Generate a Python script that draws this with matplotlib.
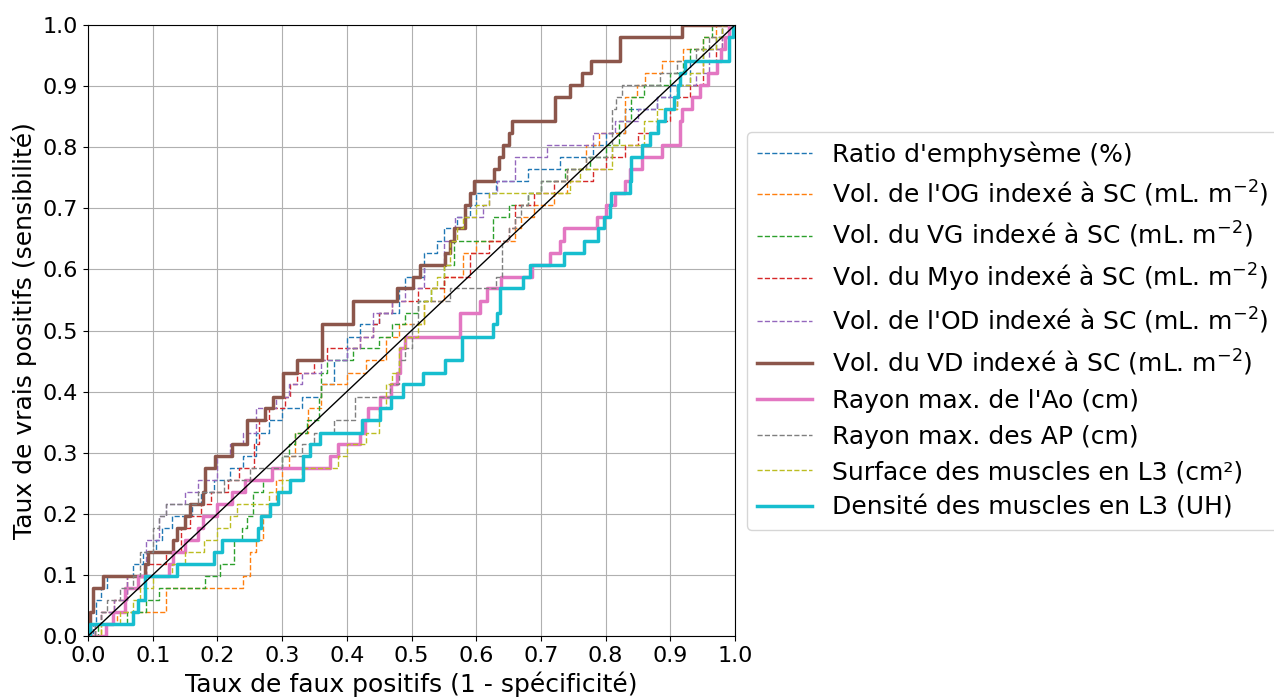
import matplotlib
matplotlib.use("Agg")
import matplotlib.pyplot as plt

# ROC curves: fpr where each step starts, tpr level after the step
labels = [
    "Ratio d'emphysème (%)",
    "Vol. de l'OG indexé à SC (mL. m$^{-2}$)",
    "Vol. du VG indexé à SC (mL. m$^{-2}$)",
    "Vol. du Myo indexé à SC (mL. m$^{-2}$)",
    "Vol. de l'OD indexé à SC (mL. m$^{-2}$)",
    "Vol. du VD indexé à SC (mL. m$^{-2}$)",
    "Rayon max. de l'Ao (cm)",
    "Rayon max. des AP (cm)",
    "Surface des muscles en L3 (cm²)",
    "Densité des muscles en L3 (UH)",
]

fpr_emph = [0, 0.008, 0.012, 0.02, 0.03, 0.07, 0.085, 0.105, 0.115, 0.13, 0.16, 0.175, 0.195, 0.22, 0.24, 0.26,
            0.28, 0.30, 0.33, 0.36, 0.38, 0.40, 0.42, 0.45, 0.48, 0.49, 0.52, 0.54, 0.55, 0.57, 0.59, 0.60,
            0.63, 0.68, 0.73, 0.78, 0.80, 0.83, 0.88, 0.90, 0.93, 0.95, 0.97, 0.98, 1.0]
tpr_emph = [0, 0.02, 0.059, 0.078, 0.098, 0.118, 0.137, 0.157, 0.176, 0.196, 0.216, 0.235, 0.255, 0.275, 0.294, 0.333,
            0.353, 0.373, 0.392, 0.412, 0.451, 0.49, 0.51, 0.529, 0.569, 0.588, 0.627, 0.647, 0.667, 0.686, 0.706, 0.725,
            0.745, 0.765, 0.784, 0.804, 0.824, 0.863, 0.882, 0.902, 0.941, 0.961, 0.98, 1.0, 1.0]

fpr_og = [0, 0.02, 0.045, 0.12, 0.24, 0.25, 0.26, 0.27, 0.28, 0.29, 0.30, 0.31, 0.32, 0.34, 0.36, 0.40,
          0.43, 0.46, 0.48, 0.52, 0.55, 0.58, 0.60, 0.66, 0.67, 0.69, 0.72, 0.74, 0.77, 0.79, 0.83, 0.848,
          0.861, 0.887, 0.92, 0.95, 0.97, 1.0]
tpr_og = [0, 0.02, 0.039, 0.078, 0.098, 0.137, 0.157, 0.196, 0.216, 0.255, 0.275, 0.294, 0.333, 0.373, 0.412, 0.431,
          0.451, 0.49, 0.51, 0.549, 0.588, 0.627, 0.647, 0.667, 0.686, 0.706, 0.725, 0.765, 0.804, 0.824, 0.882, 0.902,
          0.922, 0.941, 0.961, 0.98, 1.0, 1.0]

fpr_vg = [0, 0.015, 0.06, 0.09, 0.109, 0.181, 0.204, 0.225, 0.238, 0.245, 0.255, 0.27, 0.285, 0.30, 0.31, 0.32,
          0.339, 0.357, 0.36, 0.37, 0.41, 0.45, 0.47, 0.49, 0.51, 0.53, 0.55, 0.565, 0.626, 0.65, 0.68, 0.70,
          0.737, 0.776, 0.80, 0.82, 0.84, 0.86, 0.90, 0.92, 0.93, 0.95, 0.965, 1.0]
tpr_vg = [0, 0.02, 0.039, 0.059, 0.078, 0.098, 0.118, 0.157, 0.176, 0.196, 0.235, 0.255, 0.275, 0.294, 0.314, 0.333,
          0.353, 0.392, 0.431, 0.451, 0.471, 0.49, 0.51, 0.529, 0.549, 0.569, 0.608, 0.647, 0.686, 0.706, 0.725, 0.745,
          0.765, 0.784, 0.804, 0.843, 0.882, 0.902, 0.922, 0.941, 0.961, 0.98, 1.0, 1.0]

fpr_myo = [0, 0.01, 0.02, 0.04, 0.06, 0.09, 0.12, 0.143, 0.157, 0.175, 0.19, 0.216, 0.233, 0.256, 0.265, 0.279,
           0.304, 0.312, 0.323, 0.35, 0.37, 0.42, 0.44, 0.45, 0.47, 0.51, 0.55, 0.59, 0.62, 0.65, 0.66, 0.69,
           0.72, 0.78, 0.80, 0.83, 0.85, 0.88, 0.90, 0.91, 0.93, 0.95, 0.97, 0.98, 0.99, 1.0]
tpr_myo = [0, 0.02, 0.039, 0.059, 0.098, 0.118, 0.137, 0.176, 0.196, 0.216, 0.235, 0.255, 0.275, 0.314, 0.353, 0.373,
           0.392, 0.412, 0.431, 0.451, 0.471, 0.49, 0.51, 0.529, 0.549, 0.569, 0.588, 0.627, 0.647, 0.667, 0.706, 0.725,
           0.745, 0.765, 0.784, 0.804, 0.824, 0.843, 0.863, 0.882, 0.902, 0.941, 0.961, 0.98, 1.0, 1.0]

fpr_od = [0, 0.01, 0.02, 0.04, 0.06, 0.09, 0.11, 0.12, 0.15, 0.17, 0.20, 0.22, 0.24, 0.26, 0.29, 0.31,
          0.33, 0.36, 0.40, 0.42, 0.44, 0.47, 0.49, 0.52, 0.55, 0.567, 0.61, 0.62, 0.632, 0.66, 0.71, 0.78,
          0.815, 0.85, 0.88, 0.91, 0.94, 0.96, 0.98, 1.0]
tpr_od = [0, 0.02, 0.039, 0.059, 0.098, 0.157, 0.196, 0.216, 0.235, 0.255, 0.294, 0.314, 0.333, 0.373, 0.392, 0.412,
          0.431, 0.451, 0.471, 0.49, 0.529, 0.549, 0.569, 0.608, 0.647, 0.686, 0.706, 0.725, 0.745, 0.784, 0.804, 0.824,
          0.843, 0.863, 0.882, 0.902, 0.922, 0.961, 1.0, 1.0]

fpr_vd = [0, 0.003, 0.008, 0.023, 0.088, 0.093, 0.132, 0.137, 0.150, 0.158, 0.178, 0.181, 0.196, 0.222, 0.245, 0.274,
          0.286, 0.302, 0.323, 0.361, 0.41, 0.477, 0.502, 0.513, 0.552, 0.559, 0.565, 0.583, 0.59, 0.596, 0.628, 0.635,
          0.641, 0.651, 0.655, 0.722, 0.745, 0.763, 0.778, 0.822, 0.918, 1.0]
tpr_vd = [0, 0.039, 0.078, 0.098, 0.118, 0.137, 0.157, 0.176, 0.196, 0.216, 0.235, 0.275, 0.294, 0.314, 0.353, 0.373,
          0.392, 0.431, 0.451, 0.51, 0.549, 0.569, 0.588, 0.608, 0.627, 0.647, 0.667, 0.706, 0.725, 0.745, 0.765, 0.784,
          0.804, 0.824, 0.843, 0.882, 0.902, 0.922, 0.941, 0.98, 1.0, 1.0]

fpr_ao = [0, 0.027, 0.039, 0.057, 0.078, 0.125, 0.132, 0.150, 0.170, 0.178, 0.199, 0.222, 0.243, 0.250, 0.284, 0.374,
          0.387, 0.420, 0.428, 0.433, 0.451, 0.469, 0.477, 0.482, 0.49, 0.575, 0.606, 0.616, 0.639, 0.686, 0.714, 0.729,
          0.735, 0.786, 0.80, 0.815, 0.830, 0.838, 0.856, 0.887, 0.915, 0.918, 0.933, 0.946, 0.959, 0.972, 0.979, 0.985,
          0.990, 1.0]
tpr_ao = [0, 0.02, 0.039, 0.078, 0.098, 0.118, 0.137, 0.157, 0.176, 0.196, 0.216, 0.235, 0.255, 0.255, 0.275, 0.294,
          0.314, 0.333, 0.353, 0.373, 0.392, 0.412, 0.431, 0.471, 0.49, 0.529, 0.549, 0.569, 0.588, 0.608, 0.627, 0.647,
          0.667, 0.686, 0.706, 0.725, 0.745, 0.765, 0.784, 0.804, 0.843, 0.863, 0.882, 0.902, 0.922, 0.941, 0.961, 0.98,
          1.0, 1.0]

fpr_ap = [0, 0.01, 0.02, 0.03, 0.05, 0.07, 0.08, 0.10, 0.11, 0.12, 0.17, 0.21, 0.25, 0.30, 0.33, 0.35,
          0.38, 0.413, 0.467, 0.48, 0.49, 0.50, 0.51, 0.56, 0.63, 0.64, 0.65, 0.66, 0.67, 0.68, 0.70, 0.74,
          0.77, 0.81, 0.816, 0.825, 0.884, 0.91, 0.94, 0.96, 0.98, 1.0]
tpr_ap = [0, 0.02, 0.039, 0.059, 0.078, 0.098, 0.137, 0.176, 0.196, 0.216, 0.235, 0.255, 0.275, 0.294, 0.314, 0.333,
          0.353, 0.392, 0.412, 0.451, 0.471, 0.51, 0.549, 0.569, 0.588, 0.647, 0.667, 0.686, 0.706, 0.725, 0.745, 0.765,
          0.784, 0.863, 0.882, 0.902, 0.922, 0.941, 0.961, 0.98, 1.0, 1.0]

fpr_surf = [0, 0.02, 0.05, 0.07, 0.08, 0.10, 0.13, 0.15, 0.18, 0.20, 0.22, 0.23, 0.28, 0.30, 0.33, 0.387,
            0.40, 0.43, 0.45, 0.46, 0.47, 0.48, 0.49, 0.51, 0.52, 0.53, 0.54, 0.55, 0.56, 0.57, 0.58, 0.60,
            0.62, 0.745, 0.76, 0.81, 0.86, 0.88, 0.91, 0.93, 0.95, 0.97, 0.98, 1.0]
tpr_surf = [0, 0.02, 0.039, 0.059, 0.078, 0.098, 0.118, 0.137, 0.157, 0.176, 0.196, 0.216, 0.235, 0.255, 0.275, 0.294,
            0.314, 0.333, 0.373, 0.412, 0.431, 0.471, 0.49, 0.51, 0.549, 0.569, 0.588, 0.608, 0.647, 0.667, 0.686, 0.706,
            0.725, 0.745, 0.765, 0.804, 0.843, 0.863, 0.902, 0.922, 0.961, 0.98, 1.0, 1.0]

fpr_dens = [0, 0.003, 0.070, 0.078, 0.088, 0.137, 0.194, 0.207, 0.263, 0.268, 0.281, 0.294, 0.312, 0.333, 0.343, 0.359,
            0.423, 0.451, 0.469, 0.487, 0.518, 0.552, 0.578, 0.626, 0.632, 0.637, 0.673, 0.683, 0.735, 0.766, 0.789, 0.797,
            0.807, 0.809, 0.838, 0.840, 0.856, 0.869, 0.881, 0.892, 0.905, 0.912, 0.915, 0.923, 0.990, 0.997, 1.0]
tpr_dens = [0, 0.02, 0.039, 0.059, 0.098, 0.118, 0.137, 0.157, 0.176, 0.196, 0.216, 0.235, 0.255, 0.294, 0.314, 0.333,
            0.353, 0.373, 0.392, 0.412, 0.431, 0.451, 0.49, 0.51, 0.529, 0.569, 0.588, 0.608, 0.627, 0.647, 0.667, 0.686,
            0.706, 0.725, 0.745, 0.784, 0.804, 0.824, 0.843, 0.863, 0.882, 0.902, 0.922, 0.941, 0.98, 1.0, 1.0]

curves = [(fpr_emph, tpr_emph), (fpr_og, tpr_og), (fpr_vg, tpr_vg), (fpr_myo, tpr_myo), (fpr_od, tpr_od),
          (fpr_vd, tpr_vd), (fpr_ao, tpr_ao), (fpr_ap, tpr_ap), (fpr_surf, tpr_surf), (fpr_dens, tpr_dens)]
colors = ['#1f77b4', '#ff7f0e', '#2ca02c', '#d62728', '#9467bd',
          '#8c564b', '#e377c2', '#7f7f7f', '#bcbd22', '#17becf']
solid = [5, 6, 9]

fig = plt.figure(figsize=(12.74, 6.97), dpi=100)
ax = fig.add_axes([0.0691, 0.0875, 0.5078, 0.8766])

for i, (x, y) in enumerate(curves):
    if i in solid:
        ax.plot(x, y, drawstyle='steps-post', color=colors[i], lw=2.5, label=labels[i])
    else:
        ax.plot(x, y, drawstyle='steps-post', color=colors[i], lw=1, ls='--', label=labels[i])

ax.plot([0, 1], [0, 1], color='black', lw=1)

ax.set_xlim(0, 1)
ax.set_ylim(0, 1)
ticks = [i / 10 for i in range(11)]
ax.set_xticks(ticks)
ax.set_yticks(ticks)
ax.tick_params(labelsize=16)
ax.grid(True)
ax.set_xlabel("Taux de faux positifs (1 - spécificité)", fontsize=18, labelpad=4)
ax.set_ylabel("Taux de vrais positifs (sensibilité)", fontsize=18)
ax.legend(loc='center left', bbox_to_anchor=(1, 0.5), fontsize=18, handlelength=2.2, labelspacing=0.46)

fig.savefig("out.png", dpi=100)
